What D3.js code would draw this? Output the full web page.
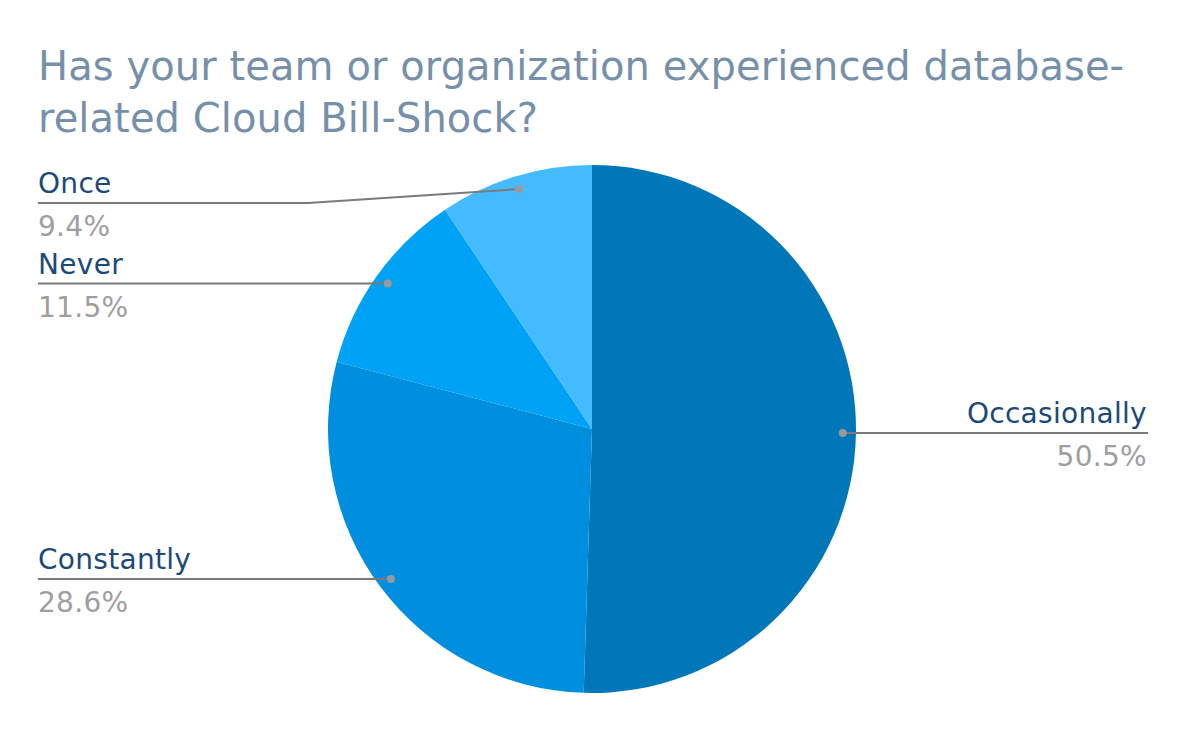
<!DOCTYPE html>
<html><head><meta charset="utf-8">
<script src="https://cdn.jsdelivr.net/npm/d3@7"></script>
<style>body{margin:0;background:#fff;font-family:"DejaVu Sans",Verdana,sans-serif;}</style>
</head><body>
<svg id="chart" width="1184" height="730"></svg>
<script>
const titleLines = ["Has your team or organization experienced database-", "related Cloud Bill-Shock?"];
const categories = ["Occasionally", "Constantly", "Never", "Once"];
const values = [50.5, 28.6, 11.5, 9.4];
const colors = ["#0077b8", "#008fde", "#00a2f6", "#45bbff"];

const svg = d3.select("#chart");
const W = 1184, H = 730;
svg.append("rect").attr("width", W).attr("height", H).attr("fill", "#fff");

svg.append("g").selectAll("text").data(titleLines).join("text")
  .attr("x", 38).attr("y", (d, i) => 80 + i * 52)
  .attr("font-size", 40).attr("fill", "#7790aa").attr("letter-spacing", 0.08)
  .text(d => d);

const cx = 592, cy = 429, R = 264;
const data = categories.map((c, i) => ({name: c, value: values[i], color: colors[i]}));
const pie = d3.pie().sort(null).value(d => d.value).startAngle(0).endAngle(2 * Math.PI);
const arcs = pie(data);
const arc = d3.arc().innerRadius(0).outerRadius(R);
const dotArc = d3.arc().innerRadius(R * 0.95).outerRadius(R * 0.95);

const g = svg.append("g").attr("transform", `translate(${cx},${cy})`);
g.selectAll("path").data(arcs).join("path")
  .attr("d", arc).attr("fill", d => d.data.color);

const fmt = v => v.toFixed(1) + "%";
const labelG = svg.append("g");
arcs.forEach(a => {
  const [px, py] = dotArc.centroid(a);
  const dx = cx + px, dy = cy + py;
  const mid = (a.startAngle + a.endAngle) / 2;
  const right = mid < Math.PI;
  let lineY = dy;
  let pts;
  if (right) {
    pts = [[dx, dy], [1148, dy]];
  } else if (a.data.name === "Once") {
    lineY = 203;
    pts = [[dx, dy], [308, lineY], [38, lineY]];
  } else {
    pts = [[dx, dy], [38, dy]];
  }
  labelG.append("path").attr("d", d3.line()(pts))
    .attr("fill", "none").attr("stroke", "#7a7a7a").attr("stroke-width", 2);
  labelG.append("circle").attr("cx", dx).attr("cy", dy).attr("r", 4).attr("fill", "#9a9a9a");
  const tx = right ? 1147 : 38;
  const anchor = right ? "end" : "start";
  labelG.append("text").attr("x", tx).attr("y", lineY - 10)
    .attr("text-anchor", anchor).attr("font-size", 28).attr("letter-spacing", 0.3).attr("fill", "#1c4a78")
    .text(a.data.name);
  labelG.append("text").attr("x", tx).attr("y", lineY + 33)
    .attr("text-anchor", anchor).attr("font-size", 28).attr("letter-spacing", 0.3).attr("fill", "#9e9e9e")
    .text(fmt(a.data.value));
});
</script>
</body></html>
